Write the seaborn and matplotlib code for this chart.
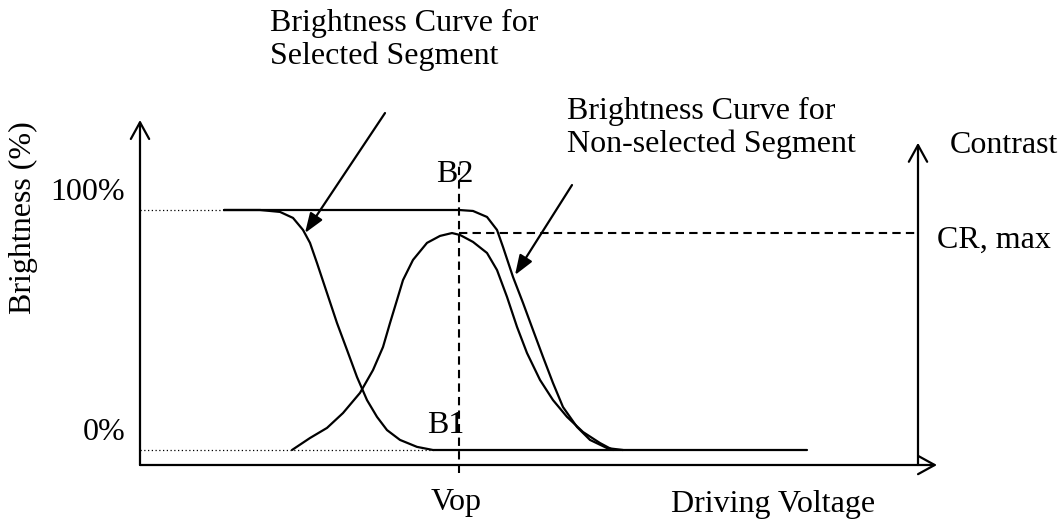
import numpy as np
import pandas as pd
import matplotlib
matplotlib.use("Agg")
import matplotlib.pyplot as plt
import seaborn as sns

# ---- data (driving voltage in arbitrary units, brightness in %) ----
selected_v = [8.4, 12.0, 14.0, 15.3, 16.3, 17.0, 17.7, 18.7, 19.7, 20.7, 21.7,
              22.7, 23.7, 24.7, 26.0, 27.7, 29.3, 66.7]
selected_b = [100, 100, 99.2, 96.7, 91.7, 86.3, 77.9, 65.4, 52.9, 41.7, 30.4,
              20.8, 13.8, 8.3, 4.2, 1.3, 0, 0]

nonsel_v = [8.4, 31.9, 33.3, 34.7, 35.7, 36.3, 37.3, 38.3, 39.3, 40.3, 41.3,
            42.3, 43.7, 45.0, 46.7, 48.3]
nonsel_b = [100, 100, 99.6, 97.1, 91.7, 84.6, 72.1, 61.3, 50.0, 38.8, 27.9,
            17.9, 9.6, 4.2, 0.8, 0]

contrast_v = [15.2, 17.0, 18.7, 20.3, 22.0, 23.3, 24.3, 25.0, 25.7, 26.3, 27.3,
              28.7, 30.0, 31.2, 32.0, 33.3, 34.7, 35.7, 36.7, 37.7, 38.7, 40.0,
              41.3, 42.7, 44.3, 46.0, 47.3]
contrast_b = [0, 5.0, 9.2, 15.4, 23.8, 33.3, 42.9, 52.9, 62.5, 70.8, 79.2,
              86.3, 89.2, 90.4, 89.6, 86.7, 82.1, 75.0, 63.8, 51.3, 40.4, 29.2,
              20.8, 13.8, 7.5, 2.9, 0]

vop = 31.9
cr_max = 90.4
level_values = [0, 100]
level_labels = ["0%", "100%"]
level_dot_end = [29.3, 8.4]

# ---- style ----
sns.set_theme(style="white")
plt.rcParams["font.family"] = ["Liberation Serif", "DejaVu Serif"]
plt.rcParams["text.color"] = "black"
FS = 23

fig = plt.figure(figsize=(10.64, 5.25), dpi=100)
ax = fig.add_axes([0, 0, 1, 1])
ax.set_xlim(-14, 92.4)
ax.set_ylim(-31.25, 187.5)
ax.axis("off")

df = pd.concat([
    pd.DataFrame({"v": selected_v, "b": selected_b, "curve": "selected"}),
    pd.DataFrame({"v": nonsel_v, "b": nonsel_b, "curve": "nonselected"}),
    pd.DataFrame({"v": contrast_v, "b": contrast_b, "curve": "contrast"}),
], ignore_index=True)

sns.lineplot(data=df, x="v", y="b", units="curve", estimator=None, sort=False,
             color="black", linewidth=1.6, legend=False, ax=ax,
             solid_joinstyle="round", solid_capstyle="round")

# ---- axes drawn as arrows ----
base_y = -6.25
right_x = 77.8
axis_arrow = dict(arrowstyle="->,head_length=0.6,head_width=0.33", lw=1.6,
                  color="black", mutation_scale=20, shrinkA=0, shrinkB=0)
ax.annotate("", xy=(0, 137.5), xytext=(0, base_y), arrowprops=axis_arrow)
ax.annotate("", xy=(79.7, base_y), xytext=(0, base_y), arrowprops=axis_arrow)
ax.annotate("", xy=(right_x, 128), xytext=(right_x, base_y), arrowprops=axis_arrow)

# ---- dotted reference levels ----
for val, lab, xe in zip(level_values, level_labels, level_dot_end):
    ax.plot([0, xe], [val, val], color="black", lw=0.9, linestyle=(0, (1, 2)))
    ax.text(-1.5, val + 7.2, lab, ha="right", va="center", fontsize=FS)

# ---- dashed Vop and CR max lines ----
ax.plot([vop, vop], [-9.6, 120], color="black", lw=1.5, linestyle=(0, (4, 2.5)))
ax.plot([vop, right_x], [cr_max, cr_max], color="black", lw=1.5,
        linestyle=(0, (4, 2.5)))

# ---- labels ----
ax.text(-11.7, 97, "Brightness (%)", rotation=90, ha="center", va="center",
        fontsize=FS)
ax.text(31.5, 114.6, "B2", ha="center", va="center", fontsize=FS)
ax.text(30.6, 10.4, "B1", ha="center", va="center", fontsize=FS)
ax.text(31.6, -22, "Vop", ha="center", va="center", fontsize=FS)
ax.text(53.1, -22.9, "Driving Voltage", ha="left", va="center", fontsize=FS)
ax.text(81.0, 127, "Contrast", ha="left", va="center", fontsize=FS)
ax.text(79.7, 87.5, "CR, max", ha="left", va="center", fontsize=FS)

ptr = dict(arrowstyle="-|>,head_length=0.6,head_width=0.22", lw=1.6,
           color="black", mutation_scale=20, shrinkA=0, shrinkB=0)
ax.text(13.0, 170.8, "Brightness Curve for\nSelected Segment", ha="left",
        va="center", fontsize=FS, linespacing=1.12)
ax.annotate("", xy=(16.5, 90.4), xytext=(24.5, 140.4), arrowprops=ptr)
ax.text(42.7, 134.2, "Brightness Curve for\nNon-selected Segment", ha="left",
        va="center", fontsize=FS, linespacing=1.12)
ax.annotate("", xy=(37.5, 72.9), xytext=(43.2, 110.4), arrowprops=ptr)

fig.savefig("out.png", dpi=100, facecolor="white")
